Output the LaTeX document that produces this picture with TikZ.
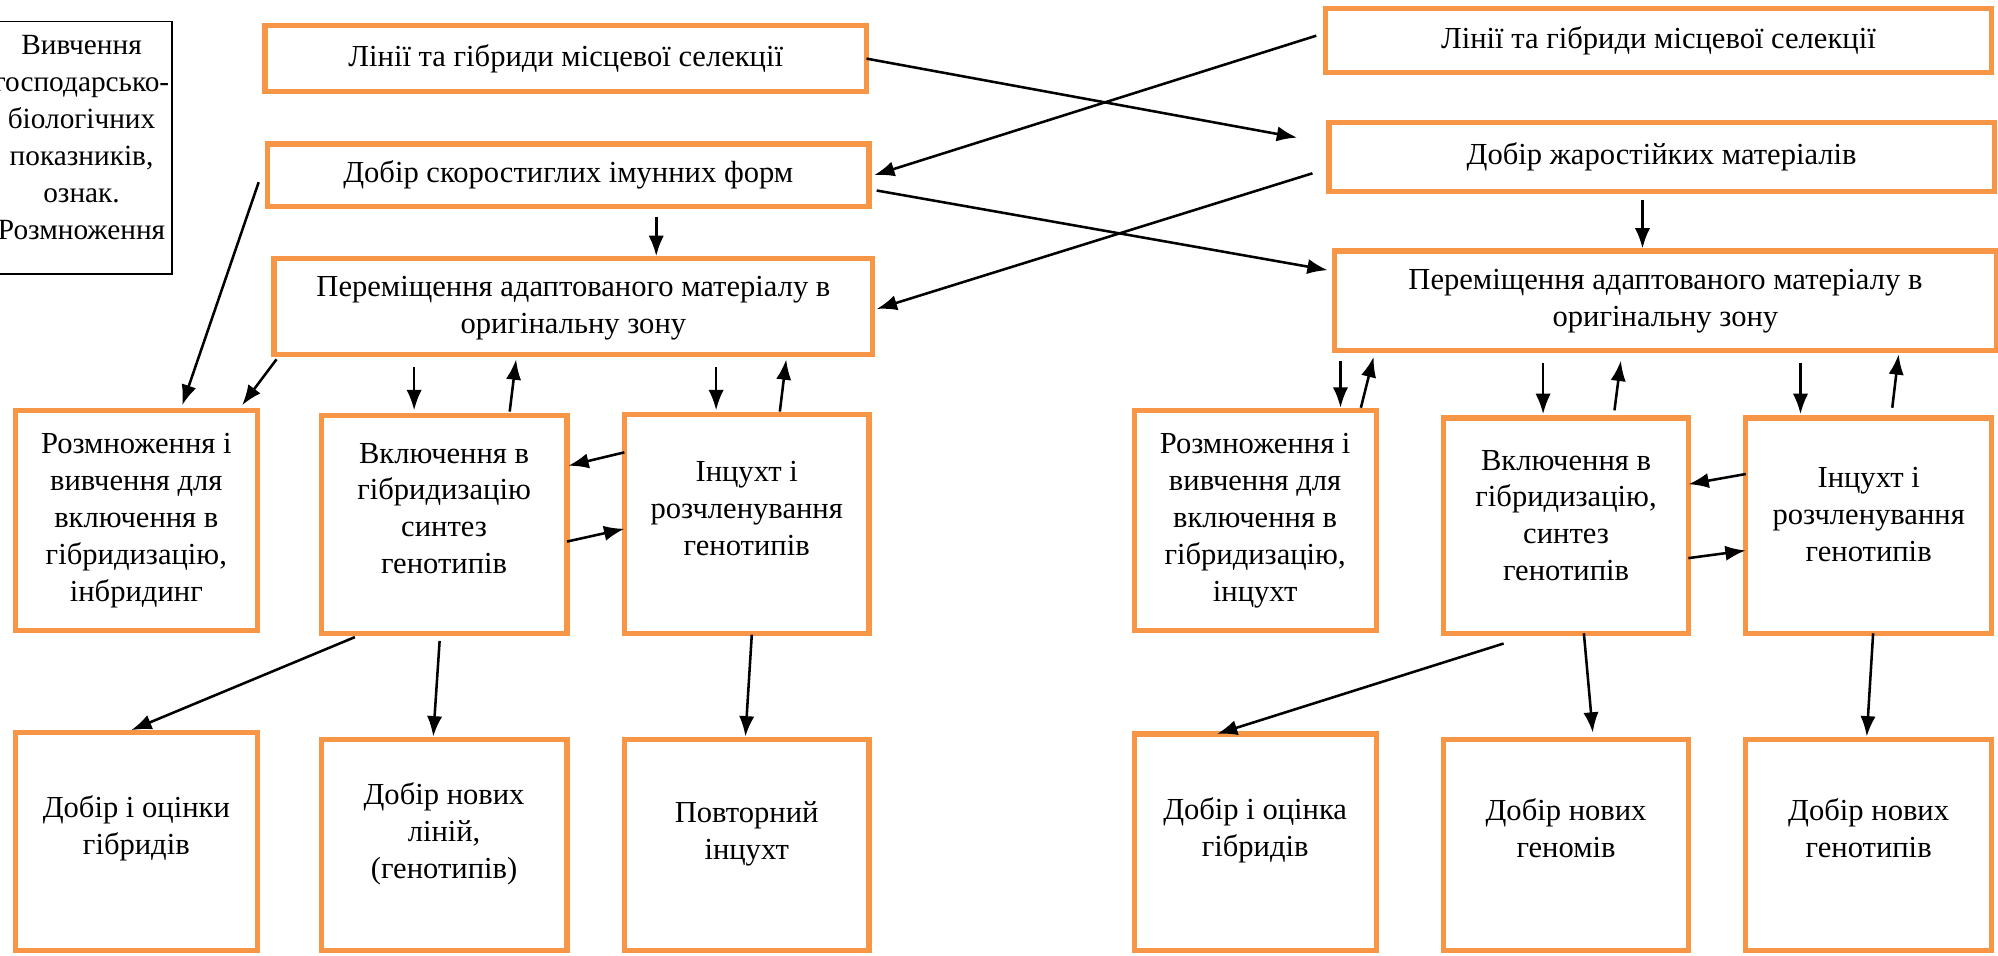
\documentclass[tikz,border=0pt]{standalone}
\usepackage{fontspec}
\setmainfont{Liberation Serif}
\usetikzlibrary{arrows.meta,calc}
\definecolor{boxorange}{RGB}{247,150,70}
\tikzset{every node/.style={font=\fontsize{24}{29}\selectfont},
  obox/.style={draw=boxorange, line width=4pt, align=center, inner sep=2pt, outer sep=0pt},
  nbox/.style={draw=black, line width=1.3pt, align=center, inner sep=2pt, outer sep=0pt,
    font=\fontsize{23}{29}\selectfont},
  lift/.style={text depth=#1},
  arr/.style={-{Latex[length=16pt,width=12pt]}, line width=2pt}}

\begin{document}
\begin{tikzpicture}[x=1pt,y=-1pt]
  \useasboundingbox (0,0) rectangle (1568,750);
  % note box on the left
  \node[nbox, minimum width=136, minimum height=198, lift=16pt] (note) at (64,116)
       {Вивчення\\господарсько-\\біологічних\\показників,\\ознак.\\Розмноження};
  % left scheme
  \node[obox, minimum width=472, minimum height=52] (A1) at (444,46) {Лінії та гібриди місцевої селекції};
  \node[obox, minimum width=472, minimum height=49] (A2) at (446,137.5) {Добір скоростиглих імунних форм};
  \node[obox, minimum width=470, minimum height=75, lift=3pt] (A3) at (450,240.5)
       {Переміщення адаптованого матеріалу в\\оригінальну зону};
  \node[obox, minimum width=190, minimum height=173] (A4) at (107,408.5)
       {Розмноження і\\вивчення для\\включення в\\гібридизацію,\\інбридинг};
  \node[obox, minimum width=193, minimum height=171, lift=25pt] (A5) at (348.5,411.5)
       {Включення в\\гібридизацію\\синтез\\генотипів};
  \node[obox, minimum width=192, minimum height=172, lift=24pt] (A6) at (586,411)
       {Інцухт і\\розчленування\\генотипів};
  \node[obox, minimum width=190, minimum height=171, lift=26pt] (A7) at (107,660.5) {Добір і оцінки\\гібридів};
  \node[obox, minimum width=193, minimum height=166, lift=22pt] (A8) at (348.5,663) {Добір нових\\ліній,\\(генотипів)};
  \node[obox, minimum width=192, minimum height=166, lift=22pt] (A9) at (586,663) {Повторний\\інцухт};
  % right scheme
  \node[obox, minimum width=523, minimum height=50] (B1) at (1301.5,32) {Лінії та гібриди місцевої селекції};
  \node[obox, minimum width=522, minimum height=54] (B2) at (1304,123) {Добір жаростійких матеріалів};
  \node[obox, minimum width=520, minimum height=78] (B3) at (1307,236)
       {Переміщення адаптованого матеріалу в\\оригінальну зону};
  \node[obox, minimum width=190, minimum height=173] (B4) at (985,408.5)
       {Розмноження і\\вивчення для\\включення в\\гібридизацію,\\інцухт};
  \node[obox, minimum width=192, minimum height=169, lift=16pt] (B5) at (1229,412.5)
       {Включення в\\гібридизацію,\\синтез\\генотипів};
  \node[obox, minimum width=193, minimum height=169, lift=18pt] (B6) at (1466.5,412.5)
       {Інцухт і\\розчленування\\генотипів};
  \node[obox, minimum width=190, minimum height=170, lift=24pt] (B7) at (985,661) {Добір і оцінка\\гібридів};
  \node[obox, minimum width=192, minimum height=166, lift=26pt] (B8) at (1229,663) {Добір нових\\геномів};
  \node[obox, minimum width=193, minimum height=166, lift=26pt] (B9) at (1466.5,663) {Добір нових\\генотипів};
  \coordinate (free) at (203,143);
  % crossing arrows
  \draw[arr] (A1.east) -- ($(B2.west)+(-25,-15)$);
  \draw[arr] ($(B1.west)+(-7,-4)$) -- ($(A2.east)+(4,0)$);
  \draw[arr] ($(A2.east)+(6,12)$) -- ($(B3.west)+(-5,-24)$);
  \draw[arr] ($(B2.west)+(-13,13)$) -- ($(A3.east)+(3,2)$);
  % left arrows
  \draw[arr] ($(A2.south)+(69,8)$) -- ($(A3.north)+(65,-2)$);
  \draw[arr] (free) -- ($(A4.north)+(36,-4)$);
  \draw[arr] ($(A3.south west)+(2,4)$) -- ($(A4.north east)+(-12,-4)$);
  \draw[arr] ($(A3.south)+(-125,10)$) -- ($(A5.north)+(-23.5,-4)$);
  \draw[arr] ($(A5.north)+(51.5,-3)$) -- ($(A3.south)+(-45,4)$);
  \draw[arr] ($(A3.south)+(112,10)$) -- ($(A6.north)+(-24,-3)$);
  \draw[arr] ($(A6.north)+(26,-2)$) -- ($(A3.south)+(167,4)$);
  \draw[arr] ($(A6.west)+(0,-56)$) -- ($(A5.east)+(1,-46)$);
  \draw[arr] ($(A5.east)+(0,13.5)$) -- ($(A6.west)+(0,4)$);
  \draw[arr] ($(A5.south)+(-70,3)$) -- ($(A7.north)+(-4,-2)$);
  \draw[arr] ($(A5.south)+(-3.5,6)$) -- ($(A8.north)+(-8.5,-2)$);
  \draw[arr] ($(A6.south)+(4,1)$) -- ($(A9.north)+(-1,-2)$);
  % right arrows
  \draw[arr] ($(B2.south)+(-15,7)$) -- ($(B3.north)+(-18,-2)$);
  \draw[arr] ($(B3.south)+(-255,8)$) -- ($(B4.north)+(67,-2)$);
  \draw[arr] ($(B4.north)+(83,-2)$) -- ($(B3.south)+(-229,5)$);
  \draw[arr] ($(B3.south)+(-96,10)$) -- ($(B5.north)+(-18,-3)$);
  \draw[arr] ($(B5.north)+(38,-6)$) -- ($(B3.south)+(-35,8)$);
  \draw[arr] ($(B3.south)+(106,10)$) -- ($(B6.north)+(-53.5,-3)$);
  \draw[arr] ($(B6.north)+(18.5,-8)$) -- ($(B3.south)+(183,3)$);
  \draw[arr] ($(B6.west)+(0,-40.5)$) -- ($(B5.east)+(0,-32.5)$);
  \draw[arr] ($(B5.east)+(0,25.5)$) -- ($(B6.west)+(0,19.5)$);
  \draw[arr] ($(B5.south)+(-49,8)$) -- ($(B7.north)+(-30,0)$);
  \draw[arr] ($(B5.south)+(14,0)$) -- ($(B8.north)+(21,-5)$);
  \draw[arr] ($(B6.south)+(3.5,0)$) -- ($(B9.north)+(-1.5,-2)$);
\end{tikzpicture}
\end{document}
